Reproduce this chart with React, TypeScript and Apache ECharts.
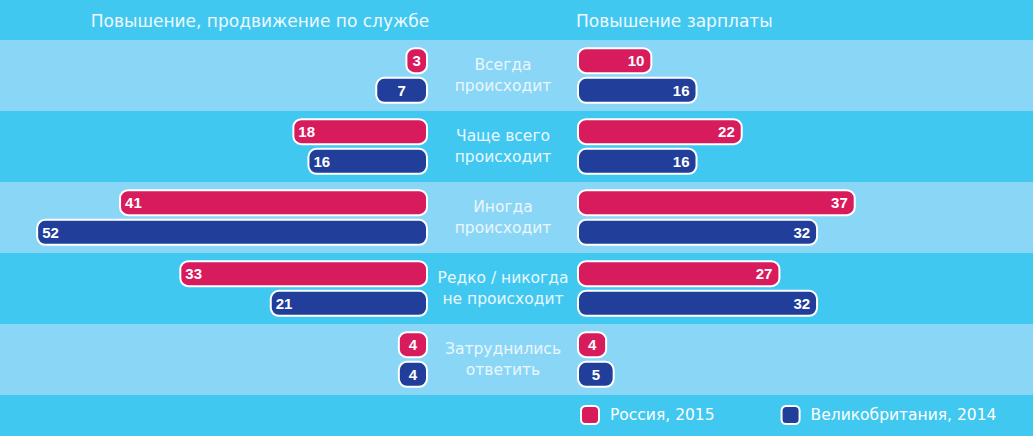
import React, { useEffect, useRef } from "react";
import * as echarts from "echarts";

const categories = [
  "Всегда\nпроисходит",
  "Чаще всего\nпроисходит",
  "Иногда\nпроисходит",
  "Редко / никогда\nне происходит",
  "Затруднились\nответить",
];
const seriesNames = ["Россия, 2015", "Великобритания, 2014"];
const promoRussia = [3, 18, 41, 33, 4];
const promoUK = [7, 16, 52, 21, 4];
const salaryRussia = [10, 22, 37, 27, 4];
const salaryUK = [16, 16, 32, 32, 5];
const titles = ["Повышение, продвижение по службе", "Повышение зарплаты"];

const RED = "#d81b5c";
const BLUE = "#213f9a";
const CYAN = "#40c8f1";
const LIGHT = "#8ad6f6";
const FONT = "'DejaVu Sans', Verdana, sans-serif";
const NUMFONT = "'Liberation Sans', Arial, Helvetica, sans-serif";

function barSeries(name: string, values: number[], color: string, axis: number, side: "left" | "right") {
  return {
    type: "bar",
    name,
    xAxisIndex: axis,
    yAxisIndex: axis,
    barWidth: 27,
    barGap: "10%",
    itemStyle: { color, borderColor: "#ffffff", borderWidth: 2, borderRadius: 8 },
    data: values.map((v) => ({
      value: v,
      label: {
        position: v < 10 ? "inside" : side === "left" ? "insideLeft" : "insideRight",
      },
    })),
    label: {
      show: true,
      distance: side === "left" ? 6 : 8,
      color: "#ffffff",
      fontWeight: "bold",
      fontSize: 15,
      fontFamily: NUMFONT,
    },
  };
}

export default function App() {
  const ref = useRef<HTMLDivElement>(null);
  useEffect(() => {
    const chart = echarts.init(ref.current!, null, { renderer: "svg" });
    chart.setOption({
      animation: false,
      backgroundColor: CYAN,
      textStyle: { fontFamily: FONT },
      grid: [
        { left: 6, right: 605, top: 40, bottom: 41 },
        { left: 577, right: 4, top: 40, bottom: 41 },
        { left: 0, right: 0, top: 40, bottom: 41 },
      ],
      xAxis: [
        { type: "value", gridIndex: 0, min: 0, max: 56, inverse: true, show: false },
        { type: "value", gridIndex: 1, min: 0, max: 60, show: false },
        { type: "value", gridIndex: 2, min: 0, max: 1, show: false },
      ],
      yAxis: [
        {
          type: "category",
          gridIndex: 0,
          data: categories,
          inverse: true,
          position: "right",
          axisLine: { show: false },
          axisTick: { show: false },
          axisLabel: {
            align: "center",
            margin: 75,
            color: "#eaf7fd",
            fontSize: 15.5,
            fontWeight: "normal",
            lineHeight: 21,
            fontFamily: FONT,
          },
        },
        {
          type: "category",
          gridIndex: 1,
          data: categories,
          inverse: true,
          show: false,
        },
        {
          type: "category",
          gridIndex: 2,
          data: categories,
          inverse: true,
          axisLine: { show: false },
          axisTick: { show: false },
          axisLabel: { show: false },
          splitArea: { show: true, areaStyle: { color: [LIGHT, CYAN] } },
        },
      ],
      legend: {
        data: seriesNames,
        left: 580,
        top: 405,
        padding: 0,
        itemWidth: 18,
        itemHeight: 18,
        itemGap: 66,
        icon: "roundRect",
        textStyle: {
          color: "#ffffff",
          fontSize: 15.5,
          fontFamily: FONT,
          padding: [0, 0, 0, 6],
        },
      },
      graphic: [
        {
          type: "text",
          x: 260,
          y: 21,
          style: {
            text: titles[0],
            fill: "#eef8fd",
            font: `17px ${FONT}`,
            align: "center",
            verticalAlign: "middle",
          },
        },
        {
          type: "text",
          x: 576,
          y: 21,
          style: {
            text: titles[1],
            fill: "#eef8fd",
            font: `17px ${FONT}`,
            align: "left",
            verticalAlign: "middle",
          },
        },
      ],
      series: [
        barSeries(seriesNames[0], promoRussia, RED, 0, "left"),
        barSeries(seriesNames[1], promoUK, BLUE, 0, "left"),
        barSeries(seriesNames[0], salaryRussia, RED, 1, "right"),
        barSeries(seriesNames[1], salaryUK, BLUE, 1, "right"),
      ],
    });
    return () => chart.dispose();
  }, []);
  return (
    <div
      ref={ref}
      style={{ position: "fixed", left: 0, top: 0, width: 1033, height: 436 }}
    />
  );
}
